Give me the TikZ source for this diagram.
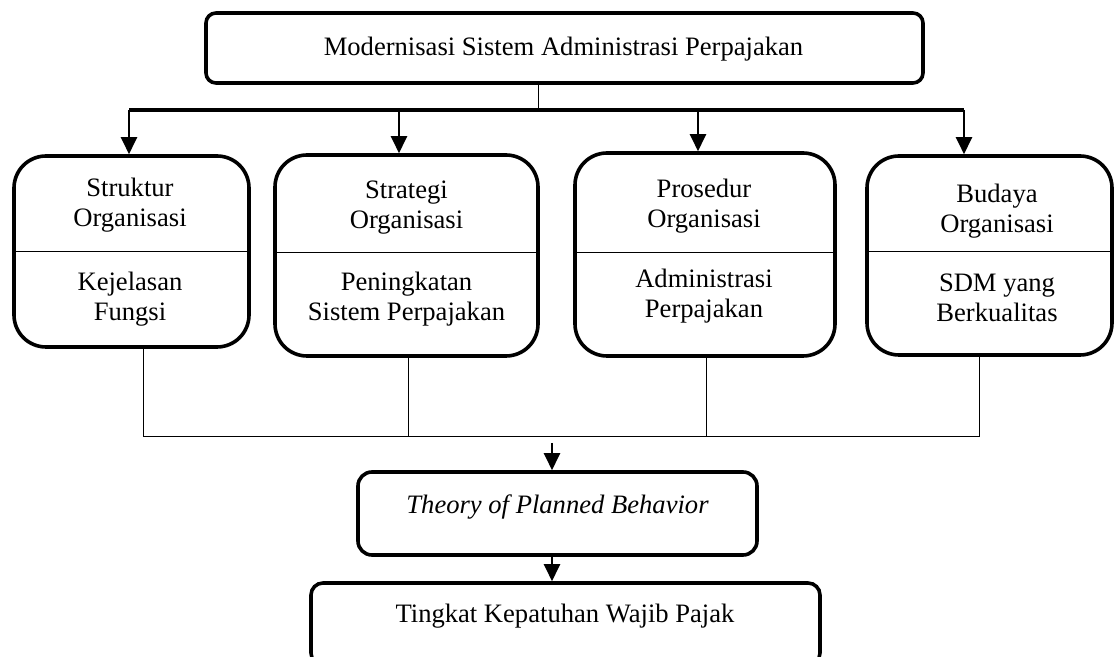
\documentclass[tikz,border=0pt]{standalone}
\usepackage{fontspec}
\setmainfont{Liberation Serif}
\usetikzlibrary{arrows.meta}
\begin{document}
\begin{tikzpicture}[x=0.5pt,y=-0.5pt,
 box/.style={draw, line width=1.8pt, rounded corners=16pt, inner sep=0pt},
 txt/.style={align=center, font=\fontsize{13.3}{15}\selectfont, inner sep=0pt},
 thinline/.style={line width=0.5pt},
 barline/.style={line width=1.9pt},
 arr/.style={line width=1.2pt, -{Triangle[width=8pt,length=8.5pt]}}]
\useasboundingbox (0,0) rectangle (1115,657);
% boxes
\node[box, rounded corners=5pt, minimum width=358.5pt, minimum height=35pt] (top) at (564.5,48) {};
\node[box, minimum width=117.5pt, minimum height=95.5pt] (b1) at (131.5,251.5) {};
\node[box, minimum width=131.5pt, minimum height=100.5pt] (b2) at (406.5,255.5) {};
\node[box, minimum width=130pt, minimum height=101.5pt] (b3) at (705,254.5) {};
\node[box, minimum width=122.5pt, minimum height=99.5pt] (b4) at (989.5,255.5) {};
\node[box, rounded corners=7pt, minimum width=199.5pt, minimum height=41.5pt] (tpb) at (557.5,513.5) {};
\node[box, rounded corners=6pt, minimum width=254.5pt, minimum height=41pt] (bot) at (565.5,624) {};
% dividers
\coordinate (m1) at (0,252);
\coordinate (m2) at (0,253);
\draw[thinline] (b1.west |- m1) -- (b1.east |- m1);
\draw[thinline] (b2.west |- m2) -- (b2.east |- m2);
\draw[thinline] (b3.west |- m2) -- (b3.east |- m2);
\draw[thinline] (b4.west |- m1) -- (b4.east |- m1);
% texts
\node[txt] (t0) at (563.5,49) {Modernisasi Sistem Administrasi Perpajakan};
\node[txt] (t1a) at (130,205) {Struktur\\Organisasi};
\node[txt] (t1b) at (130,299) {Kejelasan\\Fungsi};
\node[txt] (t2a) at (406.5,208) {Strategi\\Organisasi};
\node[txt] (t2b) at (406.5,299) {Peningkatan\\Sistem Perpajakan};
\node[txt] (t3a) at (704,206) {Prosedur\\Organisasi};
\node[txt] (t3b) at (704,296) {Administrasi\\Perpajakan};
\node[txt] (t4a) at (997,211.5) {Budaya\\Organisasi};
\node[txt] (t4b) at (997,297.5) {SDM yang\\Berkualitas};
\node[txt, font=\fontsize{13.3}{15}\selectfont\itshape] (t5) at (557.5,507) {Theory of Planned Behavior};
\node[txt] (t6) at (565,616) {Tingkat Kepatuhan Wajib Pajak};
% top connectors
\coordinate (j) at (538,110);
\coordinate (a1) at (129,110);
\coordinate (a2) at (399,110);
\coordinate (a3) at (698,110);
\coordinate (a4) at (964,110);
\draw[thinline] (top.south -| j) -- (j);
\draw[barline] (a1) -- (a4);
\draw[arr] (a1) -- (a1 |- b1.north);
\draw[arr] (a2) -- (a2 |- b2.north);
\draw[arr] (a3) -- (a3 |- b3.north);
\draw[arr] (a4) -- (a4 |- b4.north);
% bottom connectors
\coordinate (c1) at (143,437);
\coordinate (c2) at (408,437);
\coordinate (c3) at (706,437);
\coordinate (c4) at (979,437);
\draw[thinline] (b1.south -| c1) -- (c1);
\draw[thinline] (b2.south -| c2) -- (c2);
\draw[thinline] (b3.south -| c3) -- (c3);
\draw[thinline] (b4.south -| c4) -- (c4);
\draw[thinline] (c1) -- (c4);
\coordinate (d) at (552,443);
\draw[arr] (d) -- (d |- tpb.north);
\draw[arr] (tpb.south -| d) -- (d |- bot.north);
\end{tikzpicture}
\end{document}
